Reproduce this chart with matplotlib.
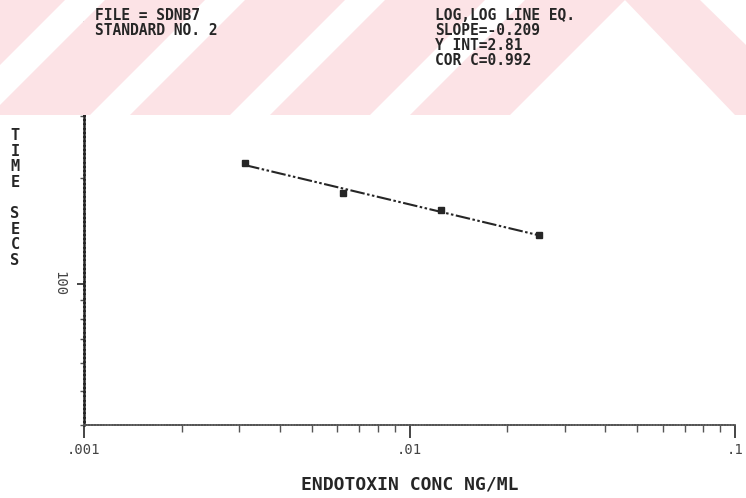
import numpy as np
import matplotlib
matplotlib.use("Agg")
import matplotlib.pyplot as plt
import matplotlib.transforms as mtransforms
from matplotlib.patches import Polygon
from matplotlib.ticker import LogLocator, FixedLocator, FixedFormatter, NullFormatter

# standard curve readings (endotoxin conc vs clot time)
conc = [0.003125, 0.00625, 0.0125, 0.025]
time_secs = [221, 181, 162, 138]

xtick_vals = [0.001, 0.01, 0.1]
xtick_labels = [".001", ".01", ".1"]
ytick_vals = [100]
ytick_labels = ["100"]

header_left = ["FILE = SDNB7", "STANDARD NO. 2"]
header_right = ["LOG,LOG LINE EQ.", "SLOPE=-0.209", "Y INT=2.81", "COR C=0.992"]

W, H = 746, 498
ink = "#262626"
pink = "#fce3e6"
mono = "DejaVu Sans Mono"

fig = plt.figure(figsize=(W / 100, H / 100), dpi=100)


def px(x, y):
    # pixel (from top-left) -> figure fraction
    return x / W, 1 - y / H


def band(pts):
    fig.patches.append(Polygon([px(*p) for p in pts], closed=True,
                               transform=fig.transFigure, facecolor=pink,
                               edgecolor="none", zorder=0))


# faint pink diagonal stripes across the top of the scan
for x0 in [-150, -10, 130, 270, 410]:
    band([(x0, 115), (x0 + 100, 115), (x0 + 215, 0), (x0 + 115, 0)])
band([(625, 0), (700, 0), (746, 45), (746, 115), (735, 115)])

ax = fig.add_axes([84 / W, 73 / H, (735 - 84) / W, (425 - 22) / H])
ax.patch.set_alpha(0)

ax.set_xscale("log")
ax.set_yscale("log")
ax.set_xlim(0.001, 0.1)
ax.set_ylim(40, 552)

# points and fitted log-log line
lx, ly = np.log10(conc), np.log10(time_secs)
m, b = np.polyfit(lx, ly, 1)
fx = np.array([lx[0], lx[-1]])
ax.plot(10 ** fx, 10 ** (m * fx + b), color=ink, lw=1.5,
        linestyle=(0, (7, 1.2, 1.2, 1.2, 1.2, 1.2)))
ax.plot(conc, time_secs, linestyle="none", marker="s", ms=4.5, color=ink)

for s in ["top", "right"]:
    ax.spines[s].set_visible(False)
ax.spines["left"].set_color(ink)
ax.spines["left"].set_linewidth(1.8)
ax.spines["left"].set_linestyle((0, (1.2, 0.5)))
ax.spines["bottom"].set_color("#555555")
ax.spines["bottom"].set_linewidth(1.3)
ax.spines["bottom"].set_linestyle((0, (1, 0.6)))

ax.xaxis.set_major_locator(FixedLocator(xtick_vals))
ax.xaxis.set_major_formatter(FixedFormatter(xtick_labels))
ax.xaxis.set_minor_locator(LogLocator(base=10, subs=np.arange(2, 10)))
ax.xaxis.set_minor_formatter(NullFormatter())
ax.yaxis.set_major_locator(FixedLocator(ytick_vals))
ax.yaxis.set_major_formatter(FixedFormatter(ytick_labels))
ax.yaxis.set_minor_locator(LogLocator(base=10, subs=np.arange(2, 10)))
ax.yaxis.set_minor_formatter(NullFormatter())

ax.tick_params(axis="x", which="major", length=9, width=1.2, colors=ink, pad=4)
ax.tick_params(axis="x", which="minor", length=5, width=1.0, colors="#555555")
ax.tick_params(axis="y", which="major", length=5, width=1.2, colors=ink, pad=8)
ax.tick_params(axis="y", which="minor", length=3, width=1.0, colors="#555555")
for t in ax.get_xticklabels() + ax.get_yticklabels():
    t.set_fontfamily(mono)
    t.set_fontsize(10)
    t.set_color("#444444")

# the "100" label reads top to bottom and sits a little above its tick
shift = mtransforms.ScaledTranslation(0, 8 / 100, fig.dpi_scale_trans)
for t in ax.get_yticklabels():
    t.set_rotation(-90)
    t.set_transform(t.get_transform() + shift)

ax.set_xlabel("ENDOTOXIN CONC NG/ML", fontfamily=mono, fontsize=13,
              fontweight="bold", color=ink, labelpad=13)

# stacked vertical axis title
fig.text(15 / W, 1 - 198 / H, "\n".join("TIME SECS"), fontfamily=mono,
         fontsize=11, fontweight="bold", color=ink, ha="center",
         va="center", linespacing=1.05)

for i, s in enumerate(header_left):
    x, y = px(95, 20 + 15 * i)
    fig.text(x, y, s, fontfamily=mono, fontsize=10.5, fontweight="bold",
             color=ink, ha="left", va="baseline")
for i, s in enumerate(header_right):
    x, y = px(435, 20 + 15 * i)
    fig.text(x, y, s, fontfamily=mono, fontsize=10.5, fontweight="bold",
             color=ink, ha="left", va="baseline")

fig.savefig("out.png", dpi=100)
